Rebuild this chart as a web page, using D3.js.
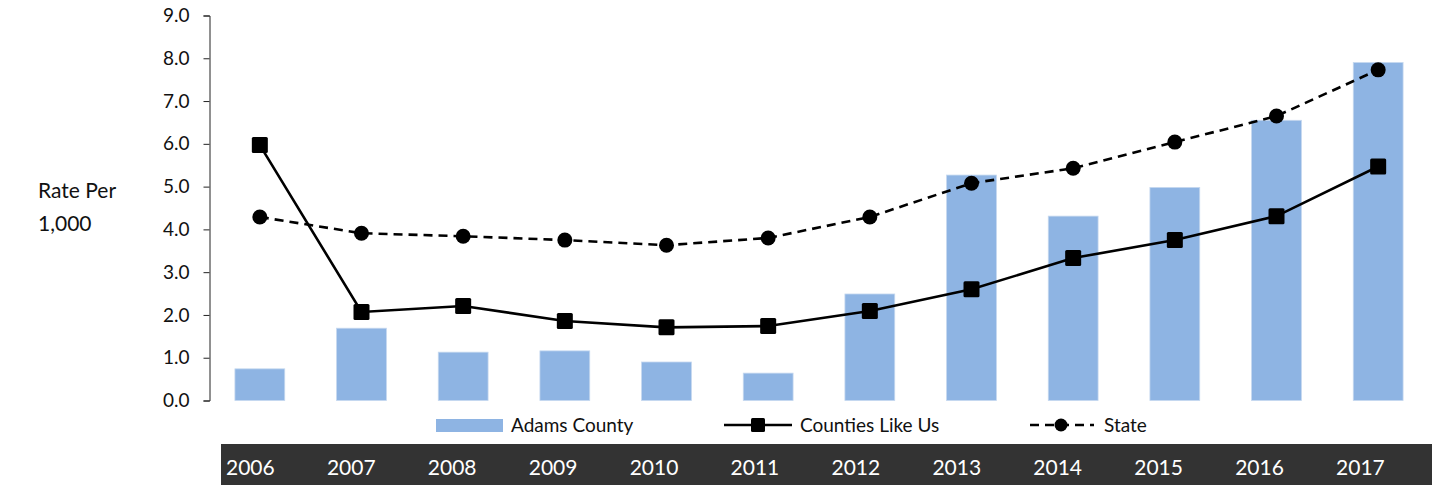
<!DOCTYPE html>
<html>
<head>
<meta charset="utf-8">
<script src="https://cdn.jsdelivr.net/npm/d3@7"></script>
<style>
  html, body { margin: 0; padding: 0; background: #fff; }
  svg { display: block; }
  text { font-family: Lato, "Open Sans", sans-serif; }
</style>
</head>
<body>
<svg id="chart" width="1438" height="485"></svg>
<script>
const years = ["2006","2007","2008","2009","2010","2011","2012","2013","2014","2015","2016","2017"];
const adamsCounty = [0.74, 1.69, 1.13, 1.16, 0.90, 0.64, 2.49, 5.27, 4.31, 4.98, 6.55, 7.90];
const countiesLikeUs = [5.97, 2.07, 2.21, 1.86, 1.71, 1.74, 2.09, 2.60, 3.33, 3.75, 4.31, 5.47];
const state = [4.29, 3.91, 3.84, 3.75, 3.63, 3.80, 4.29, 5.08, 5.43, 6.04, 6.65, 7.73];
const yTicks = [0, 1, 2, 3, 4, 5, 6, 7, 8, 9];
const seriesNames = ["Adams County", "Counties Like Us", "State"];
const yAxisTitle = ["Rate Per", "1,000"];

const svg = d3.select("#chart");
const barColor = "#8EB4E3";

const x = d3.scaleBand().domain(years).range([209, 1429]).paddingInner(0.51).paddingOuter(0.255);
const xc = d => x(d) + x.bandwidth() / 2;
const y = d3.scaleLinear().domain([0, 9]).range([400.5, 15.5]);

// y axis
const yAxis = d3.axisLeft(y).tickValues(yTicks).tickFormat(d3.format(".1f")).tickSize(6).tickPadding(14);
const gy = svg.append("g").attr("transform", "translate(209.5,0)").call(yAxis);
gy.select(".domain").attr("stroke", "#222").attr("stroke-width", 1);
gy.selectAll(".tick line").attr("stroke", "#222");
gy.selectAll(".tick text").attr("fill", "#111").style("font-size", "19px").style("font-family", "Lato, sans-serif");

// axis title
svg.append("g").selectAll("text").data(yAxisTitle).join("text")
  .attr("x", 38).attr("y", (d, i) => 198 + i * 33)
  .attr("fill", "#111").style("font-size", "21px").text(d => d);

// bars
svg.append("g").selectAll("rect").data(adamsCounty).join("rect")
  .attr("x", (d, i) => x(years[i]))
  .attr("width", x.bandwidth())
  .attr("y", d => y(d))
  .attr("height", d => y(0) - y(d))
  .attr("fill", barColor)
  .attr("stroke", "#c5d8ef").attr("stroke-width", 0.8);

// state line (dashed)
const line = d3.line().x((d, i) => xc(years[i])).y(d => y(d));
svg.append("path").datum(state).attr("d", line)
  .attr("fill", "none").attr("stroke", "#000").attr("stroke-width", 2.6)
  .attr("stroke-dasharray", "9,6");
svg.append("g").selectAll("circle").data(state).join("circle")
  .attr("cx", (d, i) => xc(years[i])).attr("cy", d => y(d)).attr("r", 7.5).attr("fill", "#000");

// counties line
svg.append("path").datum(countiesLikeUs).attr("d", line)
  .attr("fill", "none").attr("stroke", "#000").attr("stroke-width", 2.6);
svg.append("g").selectAll("rect").data(countiesLikeUs).join("rect")
  .attr("x", (d, i) => xc(years[i]) - 8).attr("y", d => y(d) - 8)
  .attr("width", 16).attr("height", 16).attr("rx", 1.5).attr("fill", "#000");

// legend
const lg = svg.append("g");
lg.append("rect").attr("x", 436).attr("y", 419).attr("width", 67).attr("height", 13).attr("fill", barColor);
lg.append("text").attr("x", 511).attr("y", 432).style("font-size", "19px").attr("fill", "#111").text(seriesNames[0]);

lg.append("line").attr("x1", 724).attr("x2", 792).attr("y1", 425).attr("y2", 425).attr("stroke", "#000").attr("stroke-width", 2.6);
lg.append("rect").attr("x", 751).attr("y", 418).attr("width", 14).attr("height", 14).attr("rx", 1.5).attr("fill", "#000");
lg.append("text").attr("x", 800).attr("y", 432).style("font-size", "19px").attr("fill", "#111").text(seriesNames[1]);

lg.append("line").attr("x1", 1030).attr("x2", 1094).attr("y1", 425).attr("y2", 425).attr("stroke", "#000").attr("stroke-width", 2.6).attr("stroke-dasharray", "9,6");
lg.append("circle").attr("cx", 1061).attr("cy", 425).attr("r", 6.5).attr("fill", "#000");
lg.append("text").attr("x", 1104).attr("y", 432).style("font-size", "19px").attr("fill", "#111").text(seriesNames[2]);

// bottom year band
const band = d3.scaleBand().domain(years).range([221, 1432]);
svg.append("rect").attr("x", 221).attr("y", 444).attr("width", 1211).attr("height", 41).attr("fill", "#333333");
svg.append("g").selectAll("text").data(years).join("text")
  .attr("x", d => band(d) + 5).attr("y", 475)
  .attr("fill", "#fff").style("font-size", "21px").text(d => d);
</script>
</body>
</html>
